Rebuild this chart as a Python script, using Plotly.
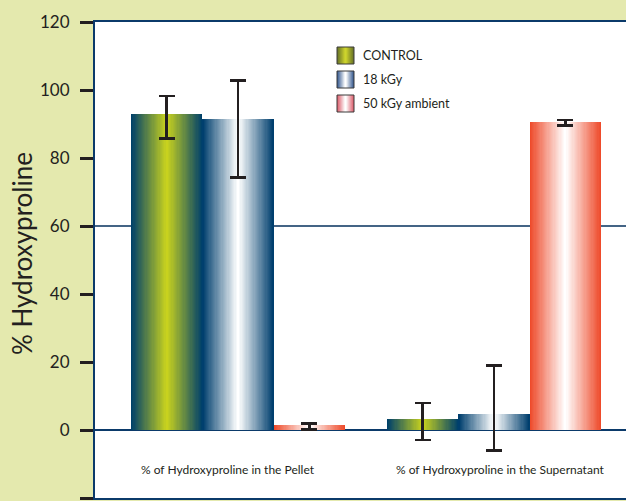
import plotly.graph_objects as go

# ---------------- data ----------------
categories = ["% of Hydroxyproline in the Pellet", "% of Hydroxyproline in the Supernatant"]
series_names = ["CONTROL", "18 kGy", "50 kGy ambient"]

control_vals = [92.8, 3.1]
control_err_plus = [5.4, 4.9]
control_err_minus = [7.1, 6.0]

kgy18_vals = [91.6, 4.6]
kgy18_err_plus = [11.2, 14.3]
kgy18_err_minus = [17.4, 10.7]

kgy50_vals = [1.6, 90.7]
kgy50_err_plus = [0.3, 0.5]
kgy50_err_minus = [1.4, 1.2]

y_ticks = [-20, 0, 20, 40, 60, 80, 100, 120]

# ---------------- style ----------------
FONT = "Lato"
TXT = "#231f20"
NAVY = "#0b3a6a"
BG = "#e4e9ae"

bar_stops = [
    [(0, 65, 106), (200, 210, 30)],
    [(0, 63, 110), (255, 255, 255)],
    [(238, 75, 43), (255, 255, 255)],
]
legend_stops = [
    [(105, 115, 40), (205, 212, 45)],
    [(55, 90, 145), (255, 255, 255)],
    [(220, 95, 110), (255, 255, 255)],
]


def lerp(c1, c2, t):
    return "rgb(%d,%d,%d)" % tuple(round(a + (b - a) * t) for a, b in zip(c1, c2))


vals = [control_vals, kgy18_vals, kgy50_vals]
eplus = [control_err_plus, kgy18_err_plus, kgy50_err_plus]
eminus = [control_err_minus, kgy18_err_minus, kgy50_err_minus]

W = 0.2785
N = 30

fig = go.Figure()
for s in range(3):
    xs = [i + (s - 1) * W for i in range(len(categories))]
    for k in range(N):
        t = k / (N - 1)
        last = k == N - 1
        fig.add_trace(go.Bar(
            x=xs, y=vals[s], width=W * (1 - k / N),
            marker=dict(color=lerp(bar_stops[s][0], bar_stops[s][1], t), line=dict(width=0)),
            opacity=1, showlegend=False, hoverinfo="skip",
            error_y=dict(type="data", array=eplus[s], arrayminus=eminus[s], visible=last,
                         color=TXT, thickness=2.5, width=8),
        ))

# plot area in pixels
L, T, B, R = 95, 22, 3, 0
FW, FH = 626, 501
PW, PH = FW - L - R, FH - T - B


def px(x):
    return (x - L) / PW


def py(y):
    return (FH - B - y) / PH


shapes = [
    dict(type="line", xref="paper", yref="y", x0=0, x1=1, y0=60, y1=60,
         line=dict(color="#06305c", width=1.3), layer="below"),
]
annotations = []

# manual legend with gradient swatches
sw_x0, sw_x1 = 337, 354
row_top = [47, 71, 95]
sw_h = 17
M = 10
for s in range(3):
    y0, y1 = row_top[s], row_top[s] + sw_h
    half = (sw_x1 - sw_x0) / 2
    cx = (sw_x0 + sw_x1) / 2
    for k in range(M):
        hw = half * (1 - k / M)
        shapes.append(dict(type="rect", xref="paper", yref="paper",
                           x0=px(cx - hw), x1=px(cx + hw), y0=py(y1), y1=py(y0),
                           fillcolor=lerp(legend_stops[s][0], legend_stops[s][1], k / (M - 1)),
                           line=dict(width=0), layer="above"))
    shapes.append(dict(type="rect", xref="paper", yref="paper",
                       x0=px(sw_x0), x1=px(sw_x1), y0=py(y1), y1=py(y0),
                       line=dict(color="#3a3a3a", width=1), layer="above"))
    annotations.append(dict(text=series_names[s], xref="paper", yref="paper",
                            x=px(361), y=py((y0 + y1) / 2), xanchor="left", yanchor="middle",
                            showarrow=False, font=dict(family=FONT, size=12.5, color=TXT)))

shifts = [-10, 6]
for i, c in enumerate(categories):
    annotations.append(dict(text=c, xref="x", yref="y", x=i, y=-11.5, xshift=shifts[i],
                            showarrow=False, font=dict(family=FONT, size=12, color=TXT)))

annotations.append(dict(text="% Hydroxyproline", xref="paper", yref="paper",
                        x=px(22), y=py(254), textangle=-90, xanchor="center", yanchor="middle",
                        showarrow=False, font=dict(family=FONT, size=26, color=TXT)))

fig.update_layout(
    width=FW, height=FH,
    margin=dict(l=L, r=R, t=T, b=B, pad=0),
    paper_bgcolor=BG, plot_bgcolor="white",
    barmode="overlay", bargap=0,
    showlegend=False,
    shapes=shapes, annotations=annotations,
    font=dict(family=FONT, color=TXT),
)
fig.update_xaxes(range=[-0.5586, 1.5156], showticklabels=False, ticks="", showgrid=False,
                 zeroline=False, showline=True, mirror=True, linecolor=NAVY, linewidth=2)
fig.update_yaxes(range=[-20, 120], tickvals=y_ticks, ticks="outside", ticklen=13, tickwidth=3,
                 tickcolor=TXT, tickfont=dict(family=FONT, size=17, color=TXT),
                 ticklabelstandoff=7,
                 showgrid=False, showline=True, mirror=False, linecolor=NAVY, linewidth=2,
                 zeroline=True, zerolinecolor=NAVY, zerolinewidth=2)

fig.write_html("out.html", config={"displayModeBar": False},
               post_script="document.body.style.margin='0';document.body.style.padding='0';"
                           "document.body.style.overflow='hidden';")
